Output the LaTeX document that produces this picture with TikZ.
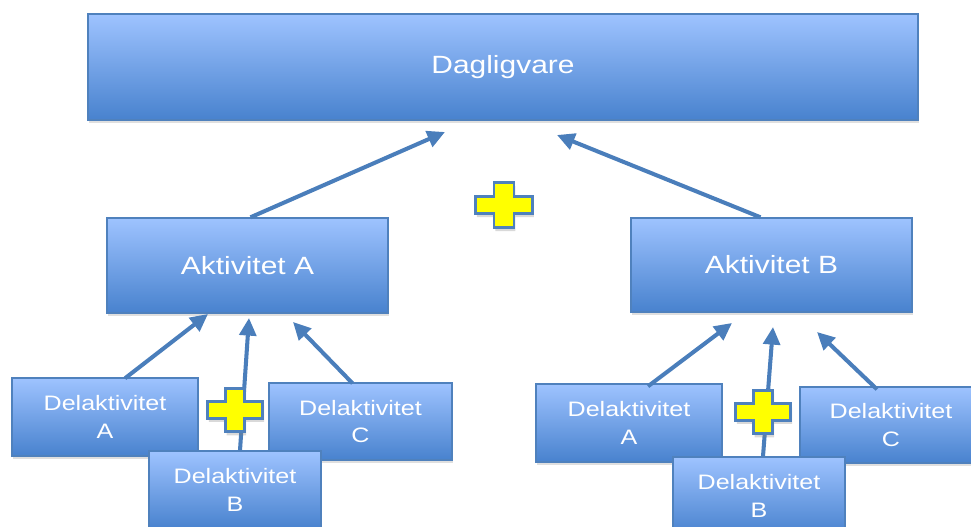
\documentclass[tikz,border=0pt]{standalone}
\usepackage{fontspec}
\setmainfont{Liberation Sans}[FakeStretch=1.2]
\usetikzlibrary{arrows.meta,shadows,calc}

\definecolor{boxtop}{RGB}{158,195,255}
\definecolor{boxbot}{RGB}{72,130,206}
\definecolor{boxline}{RGB}{79,129,189}
\definecolor{arrowblue}{RGB}{74,126,187}
\definecolor{plusyellow}{RGB}{255,255,0}

\tikzset{
  box/.style={draw=boxline, line width=0.8pt, top color=boxtop, bottom color=boxbot,
    text=white, inner sep=0pt, align=center,
    drop shadow={shadow xshift=0.6pt, shadow yshift=-1.8pt, opacity=0.25}},
  bigbox/.style={box, font=\fontsize{14.2}{17}\selectfont},
  subbox/.style={box, font=\fontsize{11.9}{15.5}\selectfont},
  arr/.style={-{Triangle[length=10pt,width=9.5pt]}, draw=arrowblue, line width=2.3pt},
  yellowplus/.pic={
    \filldraw[fill=plusyellow, draw=boxline, line width=1.7pt,
      drop shadow={shadow xshift=0.8pt, shadow yshift=-2pt, opacity=0.3}]
      (-10,-22.5) -- (10,-22.5) -- (10,-8.5) -- (28.5,-8.5) -- (28.5,8.5) -- (10,8.5)
      -- (10,22.5) -- (-10,22.5) -- (-10,8.5) -- (-28.5,8.5) -- (-28.5,-8.5) -- (-10,-8.5) -- cycle;
  }
}

\begin{document}
\begin{tikzpicture}[x=0.02cm,y=-0.02cm]
    \clip (0,0) rectangle (971,527);

    % top level
    \node[bigbox, minimum width=16.6cm, minimum height=2.12cm] (dagl) at (503,67) {Dagligvare};

    % activities
    \node[bigbox, minimum width=5.62cm, minimum height=1.9cm] (akta) at (247.5,265.5) {Aktivitet A};
    \node[bigbox, minimum width=5.62cm, minimum height=1.88cm] (aktb) at (771.5,265) {Aktivitet B};

    \coordinate (tipa) at (445,132);
    \coordinate (tipb) at (557,135);
    \draw[arr] ($(akta.north)+(3,0)$) -- (tipa);
    \draw[arr] ($(aktb.north)+(-11,0)$) -- (tipb);

    % sub-activities under A
    \node[subbox, minimum width=3.72cm, minimum height=1.56cm] (dla1) at (105,417) {Delaktivitet\\A};
    \node[subbox, minimum width=3.66cm, minimum height=1.54cm] (dlc1) at (360.5,421.5) {Delaktivitet\\C};
    \node[subbox, minimum width=3.44cm, minimum height=1.56cm] (dlb1) at (235,490) {Delaktivitet\\B};

    \coordinate (tipa1) at (208,314);
    \coordinate (tipb1) at (249,318);
    \coordinate (tipc1) at (293,322);
    \draw[arr] ($(dla1.north)+(20,1)$) -- (tipa1);
    \draw[arr] ($(dlb1.north)+(5,0)$) -- (tipb1);
    \draw[arr] ($(dlc1.north)+(-8,1)$) -- (tipc1);

    % sub-activities under B
    \node[subbox, minimum width=3.72cm, minimum height=1.56cm] (dla2) at (629,423) {Delaktivitet\\A};
    \node[subbox, minimum width=3.64cm, minimum height=1.52cm] (dlc2) at (891,425) {Delaktivitet\\C};
    \node[subbox, minimum width=3.44cm, minimum height=1.56cm] (dlb2) at (759,496) {Delaktivitet\\B};

    \coordinate (tipa2) at (732,323);
    \coordinate (tipb2) at (773,327);
    \coordinate (tipc2) at (817,332);
    \draw[arr] ($(dla2.north)+(19,3)$) -- (tipa2);
    \draw[arr] ($(dlb2.north)+(4,0)$) -- (tipb2);
    \draw[arr] ($(dlc2.north)+(-14,3)$) -- (tipc2);

    % plus signs
    \pic at (504,205) {yellowplus};
    \pic[scale=0.97] at (235,410) {yellowplus};
    \pic[scale=0.97] at (763,412) {yellowplus};
\end{tikzpicture}
\end{document}
